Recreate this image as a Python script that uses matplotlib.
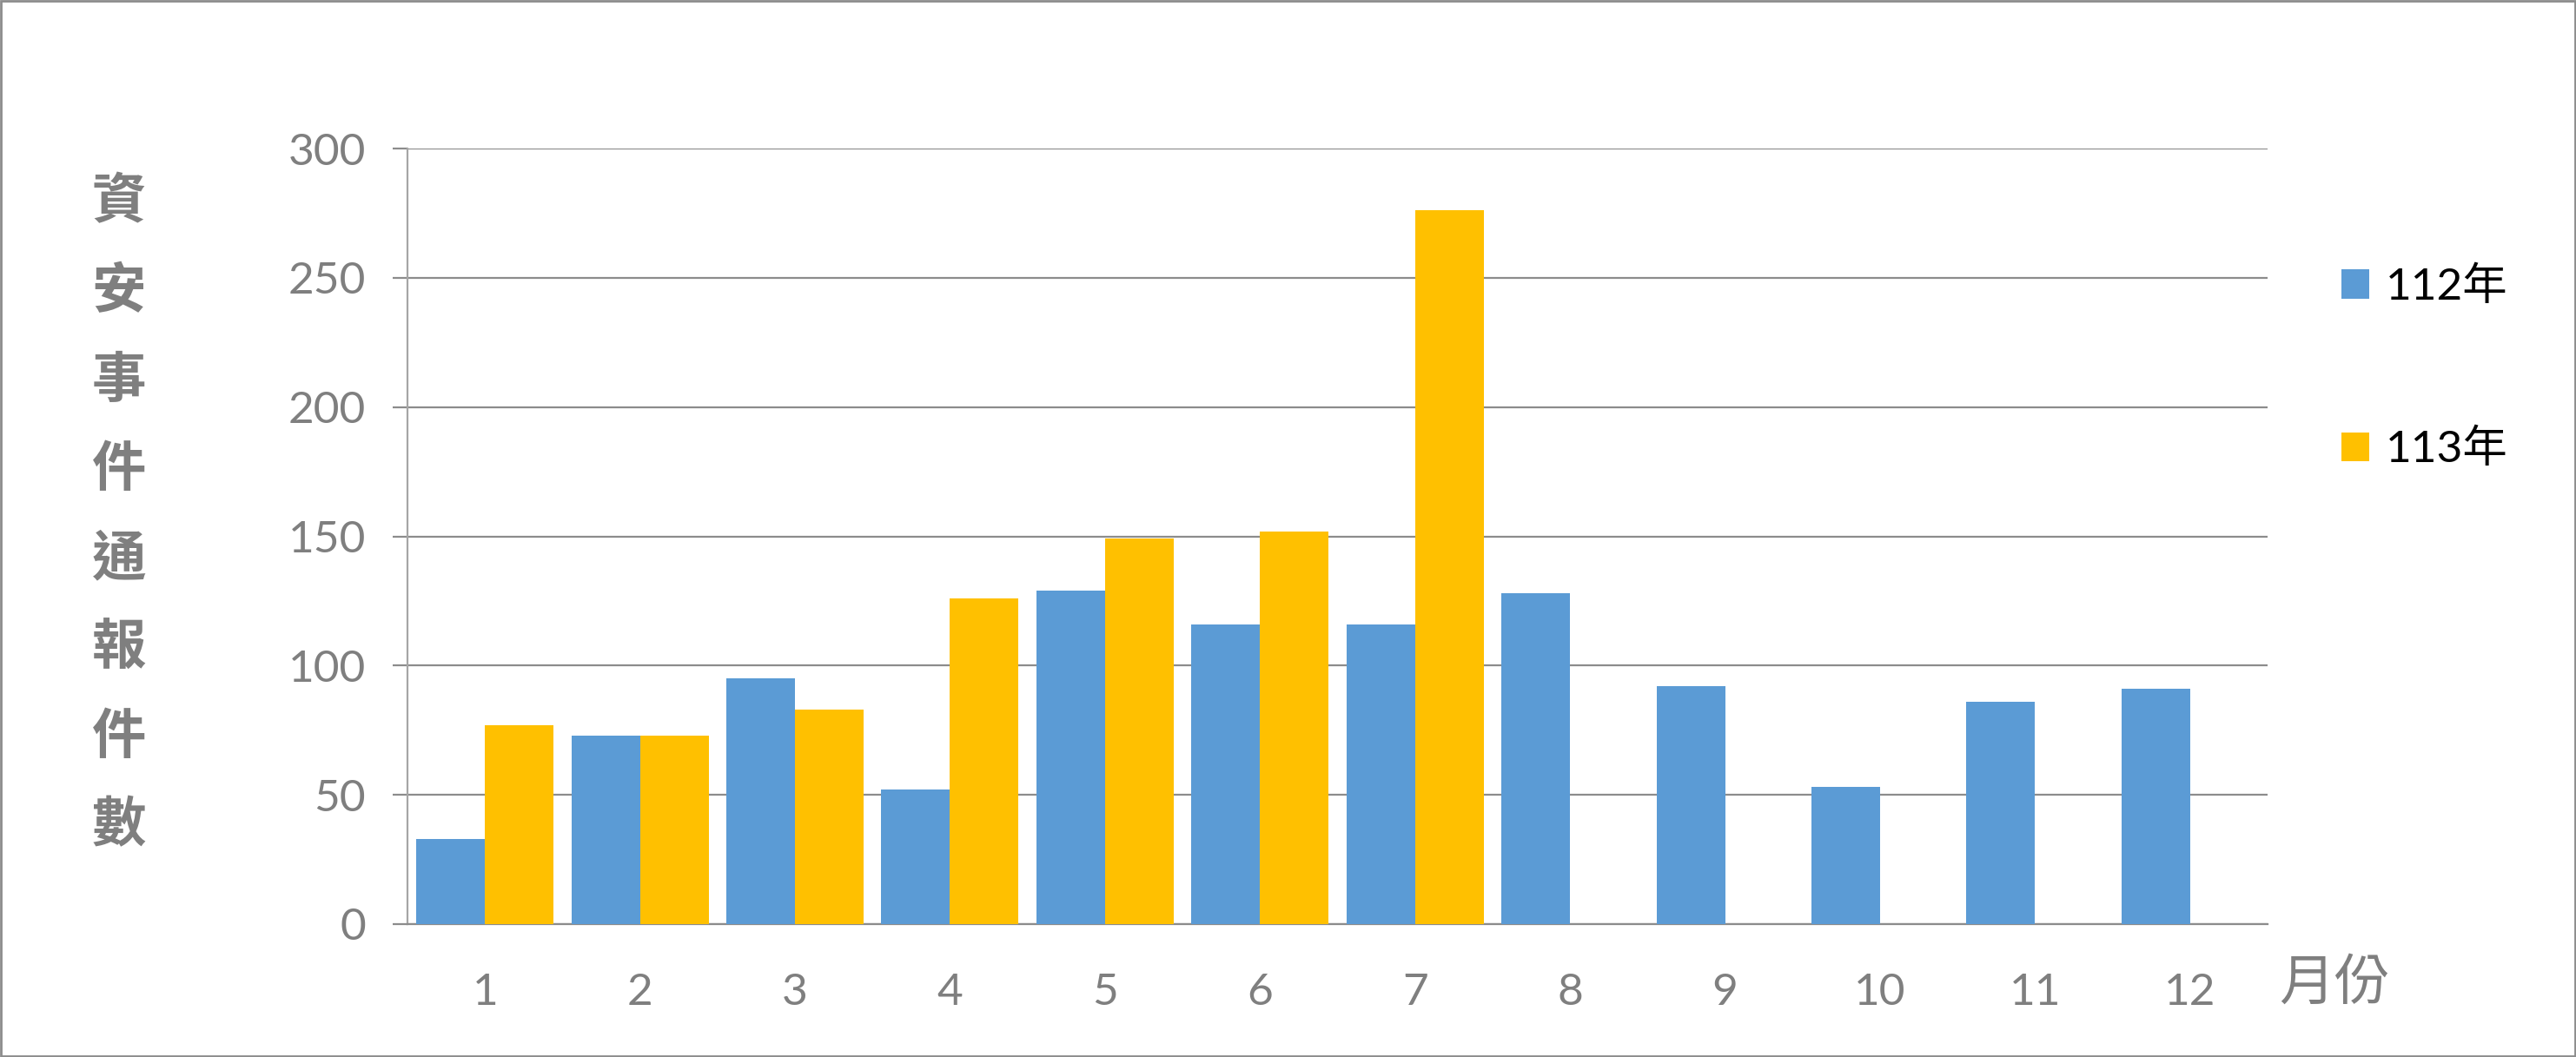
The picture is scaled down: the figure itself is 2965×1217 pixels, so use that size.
import matplotlib
matplotlib.use("Agg")
import matplotlib.pyplot as plt
import numpy as np
from matplotlib.patches import Rectangle, Patch

plt.rcParams['font.family'] = ['Noto Sans CJK TC', 'DejaVu Sans']

months = [str(m) for m in range(1, 13)]
y112 = [33, 73, 95, 52, 129, 116, 116, 128, 92, 53, 86, 91]
y113 = [77, 73, 83, 126, 149, 152, 276, None, None, None, None, None]
series_names = ["112年", "113年"]
ylabel_text = "資安事件通報件數"
xlabel_text = "月份"

blue = "#5B9BD5"
gold = "#FFC000"
grid_c = "#8C8C8C"
text_c = "#7F7F7F"

W, H = 2965, 1217
fig = plt.figure(figsize=(W / 100, H / 100), dpi=100)
ax = fig.add_axes([469 / W, 1 - 1064 / H, (2610 - 469) / W, (1064 - 171) / H])

x = np.arange(1, len(months) + 1)
w = 0.443
v113 = np.array([np.nan if v is None else v for v in y113], dtype=float)
ax.bar(x - w / 2, y112, width=w, color=blue, zorder=3)
ax.bar(x + w / 2, v113, width=w, color=gold, zorder=3)

ax.set_xlim(0.5, 12.5)
ax.set_ylim(0, 300)
ax.set_yticks(np.arange(0, 301, 50))
ax.set_xticks(x)
ax.set_xticklabels(months)
ax.yaxis.grid(True, color=grid_c, linewidth=1.6, zorder=0)
ax.set_axisbelow(True)

for s in ["top", "right"]:
    ax.spines[s].set_visible(False)
ax.spines["left"].set_color("#A6A6A6")
ax.spines["left"].set_linewidth(1.6)
ax.spines["bottom"].set_color(grid_c)
ax.spines["bottom"].set_linewidth(1.6)

num_font = ['Lato', 'DejaVu Sans']
ax.tick_params(axis="y", direction="out", length=12.5, width=1.6, color=grid_c,
               pad=22, labelsize=37, labelcolor=text_c)
ax.tick_params(axis="x", length=0, pad=40, labelsize=37, labelcolor=text_c)
for lab in ax.get_xticklabels() + ax.get_yticklabels():
    lab.set_fontfamily(num_font)

# vertical stacked y label
for i, ch in enumerate(ylabel_text):
    fig.text(137 / W, 1 - (233 + i * 102.6) / H, ch, ha="center", va="center",
             fontsize=45, color=text_c, fontweight="bold")

fig.text(2687 / W, 1 - 1132 / H, xlabel_text, ha="center", va="center",
         fontsize=46, color=text_c)

handles = [Patch(facecolor=blue), Patch(facecolor=gold)]
leg = fig.legend(handles, series_names, loc="center left",
                 bbox_to_anchor=(2669 / W, 1 - 424 / H), frameon=False,
                 borderpad=0, handlelength=0.62, handleheight=0.62,
                 handletextpad=0.37, labelspacing=2.72,
                 prop={'family': ['Lato', 'Noto Sans CJK TC'], 'size': 37})

fig.add_artist(Rectangle((0.0004, 0.001), 0.9992, 0.998, transform=fig.transFigure,
                         fill=False, edgecolor="#8C8C8C", linewidth=2))

fig.savefig("out.png", dpi=100)
